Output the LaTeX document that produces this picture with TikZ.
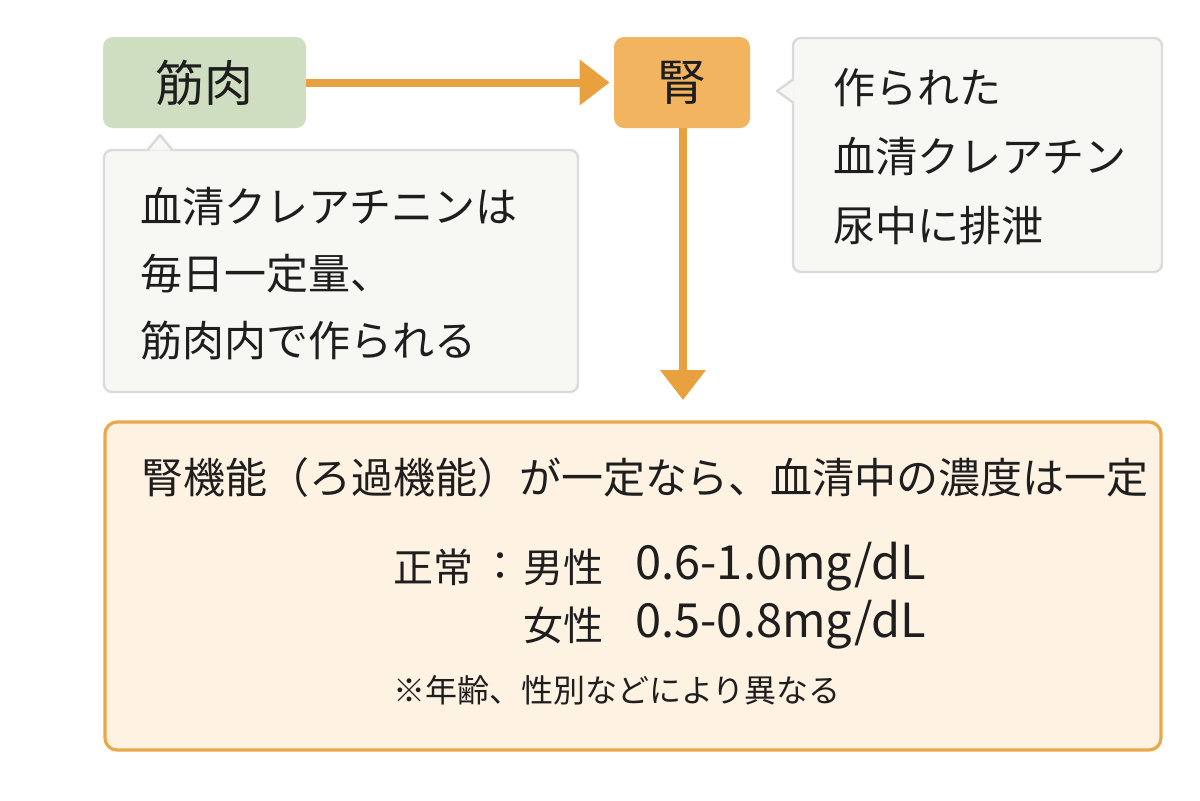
\documentclass[tikz,border=0pt]{standalone}
\usepackage{fontspec}
\setmainfont{Noto Sans CJK JP}
\usetikzlibrary{arrows.meta}
\definecolor{greenfill}{HTML}{CFDDC0}
\definecolor{kidneyfill}{HTML}{F2B45E}
\definecolor{arrowcol}{HTML}{E9A03F}
\definecolor{calloutfill}{HTML}{F7F7F4}
\definecolor{calloutline}{HTML}{DADADA}
\definecolor{bottomfill}{HTML}{FEF3E3}
\definecolor{bottomline}{HTML}{EBA84A}
\definecolor{txt}{HTML}{1E1E1E}
\begin{document}
\begin{tikzpicture}[x=0.5pt,y=-0.5pt,
  organ/.style={rectangle,rounded corners=5pt,inner sep=0pt,text=txt,font=\fontsize{24.5pt}{28pt}\selectfont},
  callout/.style={rectangle,rounded corners=4pt,fill=calloutfill,draw=calloutline,line width=1.2pt,inner sep=0pt},
  ctext/.style={align=left,inner sep=0pt,anchor=west,text=txt},
  flow/.style={draw=arrowcol,line width=4pt,-{Triangle[length=15pt,width=22pt]}},
  btext/.style={inner sep=0pt,anchor=west,text=txt,font=\fontsize{20pt}{24pt}\selectfont},
  vtext/.style={inner sep=0pt,anchor=west,text=txt,font=\fontsize{23.5pt}{26pt}\selectfont}]
\useasboundingbox (0,0) rectangle (1200,800);
\fill[white] (0,0) rectangle (1200,800);

% callouts
\node[callout,minimum width=184.5pt,minimum height=117pt] (rc) at (977.5,155) {};
\node[callout,minimum width=237pt,minimum height=121pt] (lc) at (341,271) {};
% pointers
\coordinate (rtip) at (777,91);
\coordinate (ltip) at (160,135);
\fill[calloutfill] (794,78) -- (rtip) -- (794,104) -- cycle;
\draw[calloutline,line width=1.2pt,line join=round] (793.6,79) -- (rtip) -- (793.6,103);
\fill[calloutfill] (146,150.6) -- (ltip) -- (174,150.6) -- cycle;
\draw[calloutline,line width=1.2pt,line join=round] (147,150.6) -- (ltip) -- (173,150.6);

% organ boxes
\node[organ,fill=greenfill,minimum width=101.5pt,minimum height=45.5pt] (muscle) at (204.5,82.5) {筋肉};
\node[organ,fill=kidneyfill,minimum width=68pt,minimum height=45.5pt] (kidney) at (682,82.5) {腎};

% bottom box
\node[rectangle,rounded corners=6pt,fill=bottomfill,draw=bottomline,line width=1.6pt,minimum width=528pt,minimum height=164pt,inner sep=0pt] (bottom) at (633,586) {};

% arrows
\coordinate (vend) at (683,400);
\draw[flow,shorten >=2pt] (muscle.east) -- (kidney.west);
\draw[flow] (kidney.south -| vend) -- (vend);

% callout texts
\node[ctext,font=\fontsize{21pt}{34.5pt}\selectfont] (rtext) at (833,157) {作られた\\血清クレアチン\\尿中に排泄};
\node[ctext,font=\fontsize{21pt}{33.5pt}\selectfont] (ltext) at (140,274) {血清クレアチニンは\\毎日一定量、\\筋肉内で作られる};

% bottom texts
\node[inner sep=0pt,text=txt,font=\fontsize{21pt}{24pt}\selectfont] (title) at (645,478) {腎機能（ろ過機能）が一定なら、血清中の濃度は一定};
\node[btext] (normal) at (393,567) {正常};
\node[btext] (colon) at (480,567) {：};
\node[btext] (male) at (523,567) {男性};
\node[vtext] (mval) at (635,567) {0.6-1.0mg/dL};
\node[btext] (female) at (523,625) {女性};
\node[vtext] (fval) at (635,625) {0.5-0.8mg/dL};
\node[inner sep=0pt,anchor=west,text=txt,font=\fontsize{16pt}{20pt}\selectfont] (note) at (393,690) {※年齢、性別などにより異なる};
\end{tikzpicture}
\end{document}
